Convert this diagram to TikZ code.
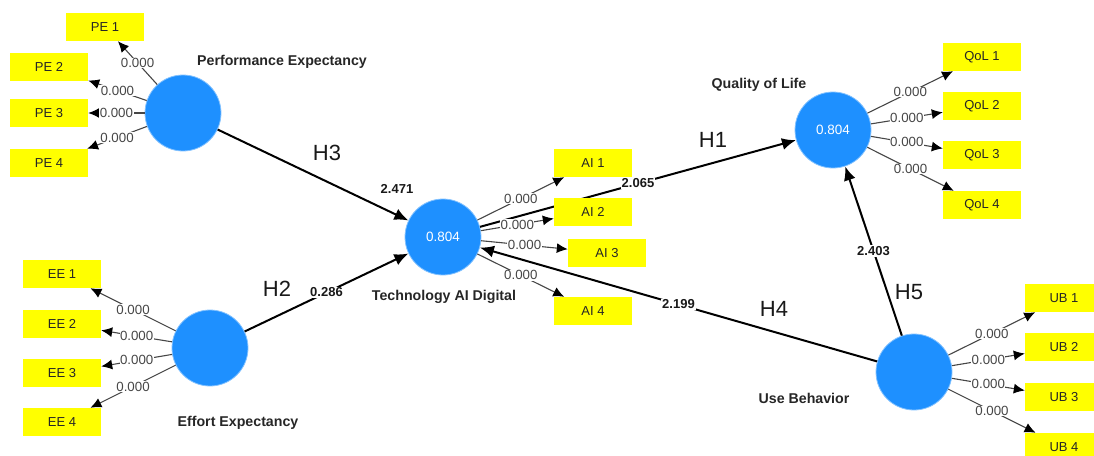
\documentclass[tikz,border=0pt]{standalone}
\usepackage{fontspec}
\setmainfont{Liberation Sans}
\usetikzlibrary{arrows.meta}
\definecolor{lvblue}{RGB}{30,144,255}
\definecolor{indyellow}{RGB}{255,255,0}
\definecolor{loadgray}{RGB}{70,70,70}
\begin{document}
\begin{tikzpicture}[x=1pt,y=-1pt,
 latent/.style={circle,fill=lvblue,draw=lvblue!55!white,line width=0.8pt,minimum size=76pt,inner sep=0pt,text=white,font=\fontsize{13.5}{13.5}\selectfont},
 ind/.style={rectangle,fill=indyellow,minimum width=78pt,minimum height=28pt,inner sep=0pt,text=black!85,font=\fontsize{13}{13}\selectfont},
 cname/.style={font=\bfseries\fontsize{14.2}{14.2}\selectfont,text=black!85},
 hyp/.style={font=\fontsize{22}{22}\selectfont,text=black!90},
 coef/.style={font=\bfseries\fontsize{13}{13}\selectfont,text=black!90,inner sep=1pt},
 coefon/.style={coef,fill=white,midway},
 load/.style={draw=loadgray,line width=1.1pt,-{Latex[black,length=11pt,width=10pt]}},
 loadlbl/.style={font=\fontsize{13.3}{13.3}\selectfont,text=loadgray,fill=white,inner sep=0.5pt,midway},
 struct/.style={draw=black,line width=2pt,-{Latex[length=14pt,width=12pt]}},
]
\useasboundingbox (0,0) rectangle (1094,455);
\clip (0,0) rectangle (1094,455);

% latent variables
\node[latent] (PE) at (183,113) {};
\node[latent] (EE) at (210,348) {};
\node[latent] (AI) at (443,237) {0.804};
\node[latent] (QoL) at (833,130) {0.804};
\node[latent] (UB) at (914,372) {};

% construct names
\node[cname] (nPE) at (282,62) {Performance Expectancy};
\node[cname] (nEE) at (238,423) {Effort Expectancy};
\node[cname] (nAI) at (444,297) {Technology AI Digital};
\node[cname] (nQoL) at (759,85) {Quality of Life};
\node[cname] (nUB) at (804,398) {Use Behavior};

% structural paths
\draw[struct] (PE) -- (AI);
\draw[struct] (EE) -- (AI) node[coefon] (c2) {0.286};
\draw[struct] (AI) -- (QoL) node[coefon] (c1) {2.065};
\draw[struct] (UB) -- (AI) node[coefon] (c4) {2.199};
\draw[struct] (UB) -- (QoL) node[coefon] (c5) {2.403};
\node[coef] (c3) at (397,189) {2.471};

% hypothesis labels
\node[hyp] (h3) at (327,153) {H3};
\node[hyp] (h2) at (277,289) {H2};
\node[hyp] (h1) at (713,140) {H1};
\node[hyp] (h4) at (774,309) {H4};
\node[hyp] (h5) at (909,292) {H5};

% indicators
\node[ind] (PE1) at (105,27) {PE 1};
\node[ind] (PE2) at (49,67) {PE 2};
\node[ind] (PE3) at (49,113) {PE 3};
\node[ind] (PE4) at (49,163) {PE 4};
\node[ind] (EE1) at (62,274) {EE 1};
\node[ind] (EE2) at (62,324) {EE 2};
\node[ind] (EE3) at (62,373) {EE 3};
\node[ind] (EE4) at (62,422) {EE 4};
\node[ind] (AI1) at (593,163) {AI 1};
\node[ind] (AI2) at (593,212) {AI 2};
\node[ind] (AI3) at (607,253) {AI 3};
\node[ind] (AI4) at (593,311) {AI 4};
\node[ind] (QoL1) at (982,57) {QoL 1};
\node[ind] (QoL2) at (982,106) {QoL 2};
\node[ind] (QoL3) at (982,155) {QoL 3};
\node[ind] (QoL4) at (982,205) {QoL 4};
\node[ind] (UB1) at (1064,298) {UB 1};
\node[ind] (UB2) at (1064,347) {UB 2};
\node[ind] (UB3) at (1064,397) {UB 3};
\node[ind] (UB4) at (1064,447) {UB 4};

% loadings
\foreach \c/\i in {PE/1,PE/2,PE/3,PE/4,EE/1,EE/2,EE/3,EE/4,AI/1,AI/2,AI/3,AI/4,QoL/1,QoL/2,QoL/3,QoL/4,UB/1,UB/2,UB/3,UB/4}{
  \draw[load] (\c) -- (\c\i) node[loadlbl] {0.000};
}
\end{tikzpicture}
\end{document}
